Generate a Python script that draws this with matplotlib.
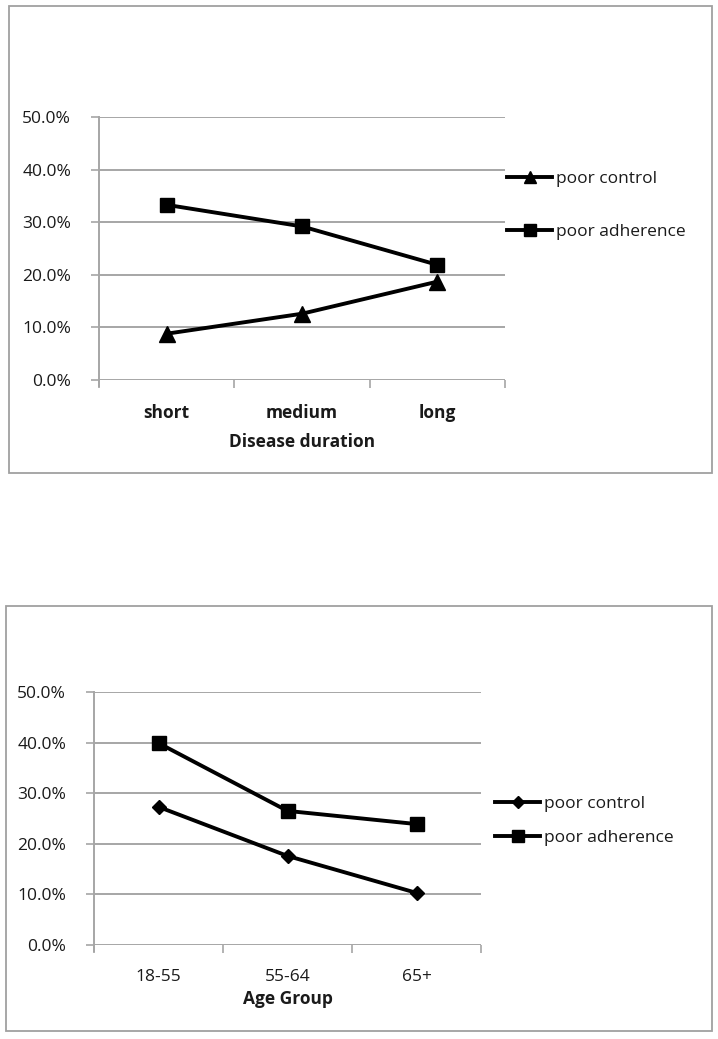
import matplotlib
matplotlib.use("Agg")
import matplotlib.pyplot as plt
from matplotlib.patches import Rectangle
from matplotlib.ticker import PercentFormatter, FixedLocator

plt.rcParams['font.family'] = ['Open Sans', 'DejaVu Sans']

# ---- data ----
duration_cats = ["short", "medium", "long"]
duration_poor_control = [8.8, 12.6, 18.7]
duration_poor_adherence = [33.3, 29.2, 21.9]

age_cats = ["18-55", "55-64", "65+"]
age_poor_control = [27.3, 17.6, 10.3]
age_poor_adherence = [39.9, 26.5, 23.9]

y_ticks = [0, 10, 20, 30, 40, 50]
series_labels = ["poor control", "poor adherence"]

W, H = 718, 1039
fig = plt.figure(figsize=(W / 100, H / 100), dpi=100)
GRID = "#a6a6a6"
TXT = "#1a1a1a"


def px_axes(x0, y0, x1, y1):
    return fig.add_axes([x0 / W, 1 - y1 / H, (x1 - x0) / W, (y1 - y0) / H])


def frame(x0, y0, x1, y1):
    fig.add_artist(Rectangle((x0 / W, 1 - y1 / H), (x1 - x0) / W, (y1 - y0) / H,
                             transform=fig.transFigure, fill=False,
                             edgecolor="#a0a0a0", linewidth=1.3))


def style_axes(ax, cats, xlabel, bold_ticks, fs, xlabelpad):
    ax.set_xlim(-0.5, len(cats) - 0.5)
    ax.set_ylim(0, 50)
    ax.set_yticks(y_ticks)
    ax.yaxis.set_major_formatter(PercentFormatter(decimals=1))
    ax.set_xticks(range(len(cats)))
    ax.set_xticklabels(cats, fontweight="bold" if bold_ticks else "medium",
                       fontsize=fs, color=TXT)
    ax.xaxis.set_minor_locator(FixedLocator([i - 0.5 for i in range(len(cats) + 1)]))
    ax.tick_params(axis="x", which="major", length=0, pad=17)
    ax.tick_params(axis="x", which="minor", length=6, width=1.2, color=GRID, direction="out")
    ax.tick_params(axis="y", length=6, width=1.2, color=GRID, labelsize=fs,
                   labelcolor=TXT, pad=14)
    ax.grid(axis="y", color=GRID, linewidth=1.4)
    ax.set_axisbelow(True)
    for s in ["top", "right"]:
        ax.spines[s].set_visible(False)
    ax.spines["bottom"].set_visible(False)
    ax.spines["left"].set_color(GRID)
    ax.spines["left"].set_linewidth(1.4)
    ax.spines["left"].set_bounds(-1.2, 50)
    ax.spines["left"].set_clip_on(False)
    ax.set_xlabel(xlabel, fontweight="bold", fontsize=fs, color=TXT, labelpad=xlabelpad)


# ---- top panel ----
frame(9, 6, 712, 473)
ax1 = px_axes(99, 117, 505, 380)
x1 = range(len(duration_cats))
ax1.plot(x1, duration_poor_control, color="black", linewidth=2.8,
         marker="^", markersize=11, label=series_labels[0])
ax1.plot(x1, duration_poor_adherence, color="black", linewidth=2.8,
         marker="s", markersize=10, label=series_labels[1])
style_axes(ax1, duration_cats, "Disease duration", True, 12.5, 8)
ax1.legend(loc="center left", bbox_to_anchor=((507 - 99) / 406, (380 - 205.5) / 263),
           frameon=False, fontsize=12.5, handlelength=2.6, handletextpad=0.2,
           labelspacing=2.15, borderpad=0, borderaxespad=0, markerscale=0.85,
           labelcolor=TXT)

# ---- bottom panel ----
frame(6, 606, 712, 1031)
ax2 = px_axes(94, 692, 481, 945)
x2 = range(len(age_cats))
ax2.plot(x2, age_poor_control, color="black", linewidth=2.8,
         marker="D", markersize=7, label=series_labels[0])
ax2.plot(x2, age_poor_adherence, color="black", linewidth=2.8,
         marker="s", markersize=10, label=series_labels[1])
style_axes(ax2, age_cats, "Age Group", False, 12.5, 4)
ax2.legend(loc="center left", bbox_to_anchor=((495 - 94) / 387, (945 - 821) / 253),
           frameon=False, fontsize=12.5, handlelength=2.6, handletextpad=0.2,
           labelspacing=1.0, borderpad=0, borderaxespad=0, markerscale=0.85,
           labelcolor=TXT)

fig.savefig("out.png", dpi=100)
